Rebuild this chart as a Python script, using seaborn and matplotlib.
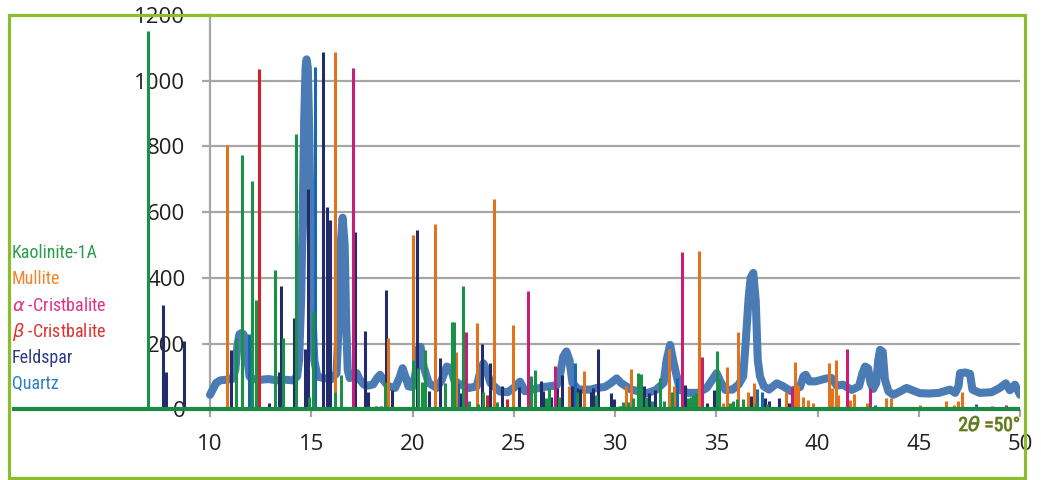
import matplotlib
matplotlib.use("Agg")
import matplotlib.pyplot as plt
import matplotlib.patheffects as pe
from matplotlib.patches import Rectangle
import seaborn as sns
import pandas as pd

# ---- measured diffraction pattern (2theta, intensity) ----
scan_2theta = [
    10.00, 10.15, 10.30, 10.50, 10.80, 11.10, 11.25, 11.35, 11.45, 11.55, 11.65, 11.75, 11.85, 11.95,
    12.10, 12.50, 12.90, 13.30, 13.70, 14.10, 14.30, 14.40, 14.50, 14.58, 14.65, 14.72, 14.77, 14.83,
    14.90, 14.97, 15.05, 15.15, 15.30, 15.60, 16.00, 16.25, 16.35, 16.45, 16.55, 16.65, 16.73, 16.80,
    16.90, 17.05, 17.24, 17.40, 17.60, 17.80, 18.06, 18.25, 18.40, 18.55, 18.80, 19.14, 19.35, 19.51,
    19.65, 19.80, 20.00, 20.15, 20.30, 20.40, 20.55, 20.80, 21.20, 21.45, 21.69, 21.90, 22.05, 22.25,
    22.50, 22.80, 23.17, 23.35, 23.50, 23.65, 23.85, 24.32, 24.70, 25.00, 25.31, 25.55, 25.90, 26.50,
    27.12, 27.30, 27.44, 27.60, 27.75, 27.90, 28.20, 28.80, 29.10, 29.50, 29.80, 30.08, 30.30, 30.80,
    31.57, 32.00, 32.40, 32.55, 32.72, 32.90, 33.05, 33.21, 33.60, 34.10, 34.53, 34.80, 35.02, 35.20,
    35.45, 35.80, 36.10, 36.33, 36.45, 36.60, 36.70, 36.83, 36.95, 37.05, 37.16, 37.35, 37.60, 37.99,
    38.30, 38.70, 39.14, 39.30, 39.42, 39.60, 39.90, 40.20, 40.45, 40.70, 40.95, 41.25, 41.69, 42.05,
    42.22, 42.35, 42.50, 42.62, 42.75, 42.90, 43.00, 43.09, 43.22, 43.33, 43.50, 43.74, 44.10, 44.40,
    44.80, 45.06, 45.50, 46.00, 46.54, 46.80, 46.96, 47.04, 47.30, 47.53, 47.65, 48.00, 48.60, 49.00,
    49.30, 49.50, 49.75, 50.00,
]
scan_counts = [
    44, 62, 80, 88, 90, 92, 120, 190, 228, 232, 228, 215, 150, 100,
    92, 90, 92, 88, 90, 88, 100, 150, 330, 600, 880, 1040, 1065, 1040,
    850, 550, 300, 150, 100, 95, 92, 110, 250, 500, 583, 500, 250, 120,
    95, 100, 110, 90, 75, 72, 76, 95, 105, 90, 70, 65, 95, 125,
    100, 70, 68, 110, 185, 190, 130, 80, 65, 90, 130, 125, 90, 79,
    72, 65, 70, 115, 140, 120, 80, 54, 52, 65, 84, 55, 60, 68,
    73, 110, 160, 176, 150, 80, 60, 60, 65, 68, 80, 94, 80, 60,
    49, 58, 80, 150, 196, 140, 100, 59, 50, 50, 65, 90, 110, 85,
    59, 60, 75, 100, 200, 340, 400, 415, 330, 150, 100, 70, 60, 79,
    70, 55, 68, 100, 105, 85, 85, 90, 94, 95, 72, 75, 59, 70,
    110, 130, 125, 80, 62, 80, 150, 181, 175, 90, 55, 44, 55, 65,
    55, 49, 48, 50, 60, 50, 70, 110, 112, 108, 60, 50, 52, 65,
    79, 58, 75, 44,
]

# ---- reference stick patterns ----
kaolinite_pos = [5.47, 6.94, 11.28, 11.58, 12.09, 12.27, 13.19, 13.59, 14.25, 14.90, 15.10, 16.16, 16.47,
                 18.66, 20.04, 20.27, 20.47, 20.63, 21.62, 21.93, 22.03, 22.50, 22.81, 23.25, 23.50, 24.19,
                 25.85, 26.04, 26.58, 26.76, 27.25, 28.10, 29.06, 30.41, 30.66, 30.90, 31.15, 31.28, 31.53,
                 31.83, 32.22, 32.42, 32.80, 33.62, 33.74, 33.87, 34.00, 35.02, 35.14, 35.70, 35.85, 36.00,
                 36.33, 36.95, 37.50]
kaolinite_int = [5, 1152, 218, 773, 694, 333, 423, 218, 839, 38, 298, 54, 105,
                 82, 150, 127, 82, 179, 79, 267, 267, 376, 25, 16, 54, 21,
                 101, 120, 34, 64, 38, 54, 44, 23, 23, 34, 110, 108, 38,
                 25, 95, 26, 52, 35, 38, 44, 49, 176, 92, 20, 25, 30,
                 30, 20, 15]

mullite_pos = [10.85, 16.17, 18.80, 20.02, 21.13, 22.13, 23.17, 24.01, 24.95, 27.74, 28.45, 30.54, 30.79,
               32.67, 32.91, 34.15, 35.35, 35.55, 36.09, 36.55, 36.86, 38.44, 38.89, 39.05, 39.27, 39.55,
               39.79, 40.57, 40.70, 40.90, 41.03, 41.60, 41.80, 42.43, 43.38, 43.61, 45.06, 46.35, 46.74,
               46.95, 47.12]
mullite_int = [805, 1088, 218, 530, 564, 173, 264, 641, 257, 71, 117, 72, 122,
               183, 71, 481, 20, 130, 234, 52, 79, 52, 145, 74, 38, 28,
               20, 140, 64, 150, 44, 28, 46, 18, 34, 34, 13, 25, 13,
               25, 54]

alpha_crist_pos = [17.05, 22.64, 25.69, 27.02, 33.29, 34.31, 38.72, 41.44, 42.59, 48.60, 49.30]
alpha_crist_int = [1040, 236, 361, 133, 478, 159, 69, 183, 66, 10, 12]

beta_crist_pos = [12.42, 23.66, 24.65]
beta_crist_int = [1037, 44, 30]

feldspar_pos = [7.68, 7.81, 8.72, 11.05, 12.91, 13.42, 13.52, 14.13, 14.68, 14.84, 15.60, 15.79, 15.93,
                17.16, 17.64, 17.80, 18.20, 18.43, 18.71, 18.97, 19.22, 20.22, 20.80, 21.34, 22.35, 23.45,
                23.83, 24.42, 25.24, 26.33, 26.46, 26.82, 27.12, 27.40, 27.86, 28.14, 28.27, 28.80, 28.93,
                29.16, 29.79, 29.95, 30.25, 31.45, 31.69, 31.98, 33.46, 34.53, 34.90, 36.72, 37.41, 37.62,
                38.11, 38.61]
feldspar_int = [318, 115, 208, 181, 20, 112, 376, 277, 184, 671, 1086, 616, 575,
                539, 237, 54, 10, 10, 362, 58, 8, 547, 57, 157, 49, 198,
                142, 72, 69, 87, 57, 38, 64, 105, 71, 64, 61, 52, 65,
                184, 50, 32, 11, 71, 49, 59, 74, 20, 59, 41, 35, 25,
                34, 20]

quartz_pos = [11.94, 15.17, 22.26, 28.04, 33.08, 37.03, 37.24, 42.84, 47.81]
quartz_int = [229, 1042, 79, 142, 96, 61, 52, 13, 17]

phase_names = ["Kaolinite-1A", "Mullite", r"$\alpha$ -Cristbalite", r"$\beta$ -Cristbalite", "Feldspar", "Quartz"]

y_ticks = [0, 200, 400, 600, 800, 1000, 1200]
x_ticks = [10, 15, 20, 25, 30, 35, 40, 45, 50]

# ---- styling ----
sns.set_theme(style="white")
plt.rcParams["font.family"] = ["Open Sans", "DejaVu Sans"]
plt.rcParams["mathtext.fontset"] = "dejavusans"

W, H = 1041, 480
fig = plt.figure(figsize=(W / 100, H / 100), dpi=100)
fig.patch.set_facecolor("white")

x0_px, x1_px = 7.5, 1020.0
y0_px, y1_px = 409.3, 15.0
ax = fig.add_axes([x0_px / W, 1 - y0_px / H, (x1_px - x0_px) / W, (y0_px - y1_px) / H])
ax.set_facecolor("none")
ax.set_xlim(0, 50)
ax.set_ylim(0, 1200)

grid_c = "#a6a6a6"
ax.hlines(y_ticks[1:], 10, 50, color=grid_c, lw=1.6, zorder=0.5)

for s in ["top", "right", "bottom"]:
    ax.spines[s].set_visible(False)
ax.spines["left"].set_position(("data", 10))
ax.spines["left"].set_color(grid_c)
ax.spines["left"].set_linewidth(1.6)
ax.spines["left"].set_zorder(0.6)

# measured scan
scan = pd.DataFrame({"two_theta": scan_2theta, "counts": scan_counts})
sns.lineplot(data=scan, x="two_theta", y="counts", ax=ax, color="#4a7bb5", lw=5.8,
             sort=False, zorder=2, solid_capstyle="round", solid_joinstyle="round")
ax.set_xlabel("")
ax.set_ylabel("")

ax.set_yticks(y_ticks)
ax.set_yticklabels([str(v) for v in y_ticks])
ax.set_xticks(x_ticks)
ax.set_xticklabels([str(v) for v in x_ticks])
ax.tick_params(axis="both", which="major", direction="out", length=5.8, width=1.6,
               color=grid_c, labelsize=16, labelcolor="#231f20", pad=12,
               left=True, bottom=True)

# reference sticks
stick_w = 2.2
ax.vlines(feldspar_pos, 0, feldspar_int, color="#222c6c", lw=stick_w, zorder=3)
ax.vlines(quartz_pos, 0, quartz_int, color="#1767b1", lw=stick_w, zorder=3.1)
ax.vlines(mullite_pos, 0, mullite_int, color="#e2731e", lw=stick_w, zorder=3.2)
ax.vlines(alpha_crist_pos, 0, alpha_crist_int, color="#c81f74", lw=stick_w, zorder=3.3)
ax.vlines(beta_crist_pos, 0, beta_crist_int, color="#d3212a", lw=stick_w, zorder=3.4)
ax.vlines(kaolinite_pos, 0, kaolinite_int, color="#1b9148", lw=stick_w, zorder=3.5)

# common baseline
ax.hlines(0, 0.2, 50, color="#1b8a45", lw=3.0, zorder=4, clip_on=False)

# phase labels
narrow = ["Roboto Condensed", "Roboto", "DejaVu Sans"]
label_colors = ["#2a9d4a", "#f0862c", "#e2308a", "#e0312f", "#2e3a87", "#2a80c2"]
label_y = [253, 279, 306, 332, 358, 384]
for name, c, yp in zip(phase_names, label_colors, label_y):
    fig.text(12 / W, 1 - yp / H, name, color=c, fontsize=13, va="center", ha="left", family=narrow)

# angle note
fig.text(1021 / W, 1 - 431 / H, r"2$\theta$ =50°", color="#3b8a2e", fontsize=14, ha="right",
         va="baseline", family=narrow,
         path_effects=[pe.withStroke(linewidth=0.7, foreground="#c8782a")])

# outer frame
frame = Rectangle((9 / W, 1 - 478 / H), (1025 - 9) / W, (478 - 15) / H, transform=fig.transFigure,
                  fill=False, edgecolor="#8cbd2e", lw=2.3, zorder=10)
fig.add_artist(frame)

fig.savefig("out.png", dpi=100)
